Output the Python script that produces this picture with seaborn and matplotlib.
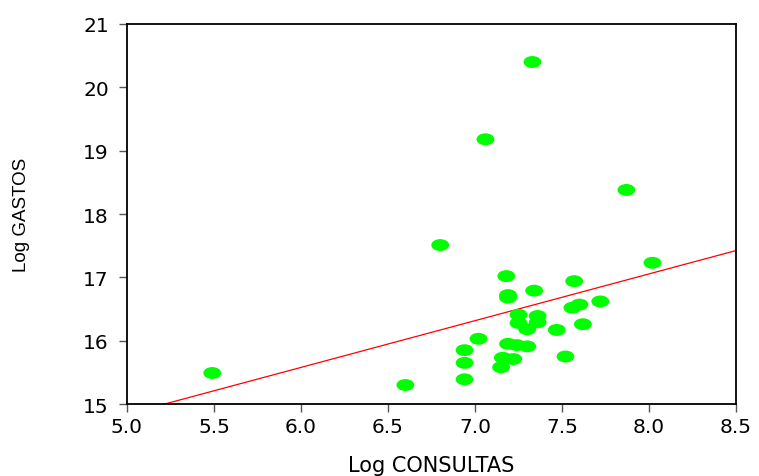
import numpy as np
import pandas as pd
import matplotlib
matplotlib.use("Agg")
import matplotlib.pyplot as plt
import seaborn as sns
from matplotlib.path import Path
from matplotlib.transforms import Affine2D

# datos (log consultas vs log gastos)
log_consultas = [5.49, 6.60, 6.80, 6.94, 6.94, 6.94, 7.02, 7.06, 7.15, 7.16,
                 7.18, 7.19, 7.19, 7.19, 7.22, 7.24, 7.25, 7.25, 7.30, 7.30,
                 7.33, 7.34, 7.36, 7.36, 7.47, 7.52, 7.56, 7.57, 7.60, 7.62,
                 7.72, 7.87, 8.02]
log_gastos = [15.49, 15.30, 17.51, 15.85, 15.65, 15.39, 16.03, 19.18, 15.58, 15.73,
              17.02, 16.72, 16.68, 15.95, 15.71, 15.93, 16.41, 16.28, 15.91, 16.18,
              20.40, 16.79, 16.39, 16.29, 16.17, 15.75, 16.52, 16.94, 16.57, 16.26,
              16.62, 18.38, 17.23]

# recta de regresion
intercepto = 11.15
pendiente = 0.738

x_ticks = [5.0, 5.5, 6.0, 6.5, 7.0, 7.5, 8.0, 8.5]
y_ticks = [15, 16, 17, 18, 19, 20, 21]

df = pd.DataFrame({"x": log_consultas, "y": log_gastos})

sns.set_style("white")
plt.rcParams["font.family"] = ["DejaVu Sans"]
plt.rcParams["text.color"] = "black"
plt.rcParams["axes.labelcolor"] = "black"
plt.rcParams["xtick.color"] = "black"
plt.rcParams["ytick.color"] = "black"

fig = plt.figure(figsize=(7.59, 4.77), dpi=100)
ax = fig.add_axes([0.1673, 0.1509, 0.8024, 0.7967])

# marcador eliptico
elipse = Path.unit_circle().transformed(Affine2D().scale(1.5, 1.0))

sns.scatterplot(data=df, x="x", y="y", marker=elipse, s=165, color="#00FF00",
                edgecolor="none", linewidth=0, ax=ax, zorder=3)

linea_x = np.array([5.0, 8.5])
linea_y = intercepto + pendiente * linea_x
sns.lineplot(x=linea_x, y=linea_y, color="#FF0000", linewidth=0.9, ax=ax, zorder=2)

ax.set_xlim(5.0, 8.5)
ax.set_ylim(15, 21)
ax.set_xticks(x_ticks)
ax.set_xticklabels([f"{t:.1f}" for t in x_ticks])
ax.set_yticks(y_ticks)
ax.set_yticklabels([str(t) for t in y_ticks])

for s in ax.spines.values():
    s.set_color("black")
    s.set_linewidth(1.3)

ax.tick_params(axis="both", direction="out", length=6, width=1,
               labelsize=14.5, bottom=True, left=True)
ax.tick_params(axis="x", which="both", color="#555555", pad=3)
ax.tick_params(axis="y", which="both", color="#555555", pad=7)

ax.set_xlabel("Log CONSULTAS", fontsize=15, labelpad=14)
ax.set_ylabel("Log GASTOS", fontsize=13.5, family=["Liberation Sans", "DejaVu Sans"])
ax.yaxis.set_label_coords(-0.16, 0.5)

fig.savefig("out.png", dpi=100)
